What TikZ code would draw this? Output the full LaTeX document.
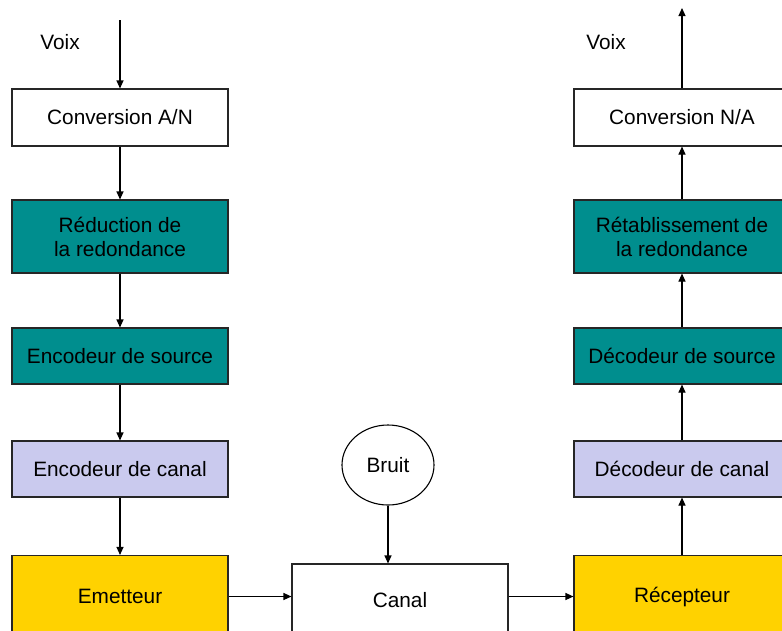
\documentclass[tikz,border=0pt]{standalone}
\usepackage{fontspec}
\setmainfont{Liberation Sans}
\usetikzlibrary{arrows.meta,shapes.geometric}
\definecolor{teal1}{HTML}{008E8E}
\definecolor{lav}{HTML}{CACAEE}
\definecolor{gold1}{HTML}{FFD200}
\tikzset{
  blk/.style={draw=black!85, line width=1.1pt, minimum width=216pt, align=center, inner sep=0pt, font=\fontsize{20.8pt}{24pt}\selectfont},
  whitebox/.style={blk, fill=white},
  tealbox/.style={blk, fill=teal1},
  lavbox/.style={blk, fill=lav},
  goldbox/.style={blk, fill=gold1},
  conn/.style={line width=1.1pt, -{Triangle[length=8pt,width=7pt]}},
  lbl/.style={font=\fontsize{20.8pt}{24pt}\selectfont, inner sep=0pt}
}
\begin{document}
\begin{tikzpicture}[x=1pt,y=-1pt]
\useasboundingbox (0,0) rectangle (782,630);
\clip (0,0) rectangle (782,630);
\fill[white] (0,0) rectangle (782,630);
% left column
\node[whitebox, minimum height=57pt] (convAN) at (120,117.5) {Conversion A/N};
\node[tealbox, minimum height=73pt] (red) at (120,236.5) {Réduction de\\la redondance};
\node[tealbox, minimum height=56pt] (encsrc) at (120,356) {Encodeur de source};
\node[lavbox, minimum height=56pt] (enccan) at (120,469) {Encodeur de canal};
\node[goldbox, minimum height=82pt] (emet) at (120,596.5) {Emetteur};
% middle
\node[whitebox, minimum height=72pt] (canal) at (400,600) {Canal};
\node[draw=black, line width=1.1pt, ellipse, fill=white, minimum width=92pt, minimum height=80pt, inner sep=0pt, font=\fontsize{20.8pt}{24pt}\selectfont] (bruit) at (388,465) {Bruit};
% right column
\node[goldbox, minimum height=82pt] (recep) at (682,596.5) {Récepteur};
\node[lavbox, minimum height=56pt] (deccan) at (682,469) {Décodeur de canal};
\node[tealbox, minimum height=56pt] (decsrc) at (682,356) {Décodeur de source};
\node[tealbox, minimum height=73pt] (retab) at (682,236.5) {Rétablissement de\\la redondance};
\node[whitebox, minimum height=57pt] (convNA) at (682,117.5) {Conversion N/A};
% labels
\node[lbl] (voixL) at (60,42) {Voix};
\node[lbl] (voixR) at (606,42) {Voix};
\coordinate (inL) at (120,20);
\coordinate (outR) at (682,8);
% connectors
\draw[conn] (inL) -- (convAN.north);
\draw[conn] (convAN) -- (red);
\draw[conn] (red) -- (encsrc);
\draw[conn] (encsrc) -- (enccan);
\draw[conn] (enccan) -- (emet);
\draw[conn] (emet.east |- 0,596.5) -- (canal.west |- 0,596.5);
\draw[conn] (canal.east |- 0,596.5) -- (recep.west |- 0,596.5);
\draw[conn] (bruit.south) -- (bruit.south |- canal.north);
\draw[conn] (recep) -- (deccan);
\draw[conn] (deccan) -- (decsrc);
\draw[conn] (decsrc) -- (retab);
\draw[conn] (retab) -- (convNA);
\draw[conn] (convNA.north) -- (outR);
\end{tikzpicture}
\end{document}
